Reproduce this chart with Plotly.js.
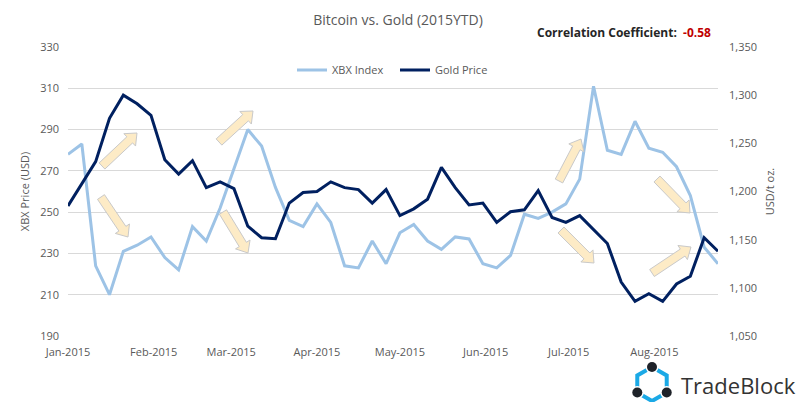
<!DOCTYPE html>
<html>
<head>
<meta charset="utf-8">
<script src="https://cdn.plot.ly/plotly-3.0.1.min.js"></script>
<style>
html,body{margin:0;padding:0;background:#fff;}
#chart{width:796px;height:402px;}
</style>
</head>
<body>
<div id="chart"></div>
<script>
// ---- data ----
const dates = [
 "2015-01-01","2015-01-06","2015-01-11","2015-01-16","2015-01-21","2015-01-26","2015-01-31","2015-02-05",
 "2015-02-10","2015-02-15","2015-02-20","2015-02-25","2015-03-02","2015-03-07","2015-03-12","2015-03-17",
 "2015-03-22","2015-03-27","2015-04-01","2015-04-06","2015-04-11","2015-04-16","2015-04-21","2015-04-26",
 "2015-05-01","2015-05-06","2015-05-11","2015-05-16","2015-05-21","2015-05-26","2015-05-31","2015-06-05",
 "2015-06-10","2015-06-15","2015-06-20","2015-06-25","2015-06-30","2015-07-05","2015-07-10","2015-07-15",
 "2015-07-20","2015-07-25","2015-07-30","2015-08-04","2015-08-09","2015-08-14","2015-08-19","2015-08-24"
];
const xbxIndex = [
 278,283,224,210,231,234,238,228,
 222,243,236,252,271,290,282,262,
 246,243,254,245,224,223,236,225,
 240,244,236,232,238,237,225,223,
 229,249,247,250,254,266,311,280,
 278,294,281,279,272,258,233,225
];
const goldPrice = [
 1185,1208,1231,1276,1300,1291,1279,1233,
 1218,1232,1204,1210,1203,1164,1152,1151,
 1188,1199,1200,1210,1204,1202,1188,1202,
 1175,1182,1192,1225,1204,1186,1188,1168,
 1179,1181,1201,1173,1168,1175,1160,1146,
 1106,1086,1094,1086,1104,1112,1152,1138
];
const monthTicks = ["2015-01-01","2015-02-01","2015-03-01","2015-04-01","2015-05-01","2015-06-01","2015-07-01","2015-08-01"];
const correlation = "-0.58";

// ---- layout geometry (pixels) ----
const W = 796, H = 402;
const L = 68, R = 78, T = 47, B = 66;
const PW = W - L - R, PH = H - T - B;
const px = x => (x - L) / PW;          // pixel -> paper x
const py = y => (H - B - y) / PH;      // pixel -> paper y

// block arrow (decoration) drawn in pixel space, converted to paper coords
function blockArrow(x0, y0, x1, y1) {
  const dx = x1 - x0, dy = y1 - y0, len = Math.hypot(dx, dy);
  const ux = dx / len, uy = dy / len, nx = -uy, ny = ux;
  const sw = 4.2, hw = 8.5, hl = 10;
  const bx = x1 - ux * hl, by = y1 - uy * hl;
  const pts = [
    [x0 + nx * sw, y0 + ny * sw],
    [bx + nx * sw, by + ny * sw],
    [bx + nx * hw, by + ny * hw],
    [x1, y1],
    [bx - nx * hw, by - ny * hw],
    [bx - nx * sw, by - ny * sw],
    [x0 - nx * sw, y0 - ny * sw]
  ];
  const path = 'M ' + pts.map(p => px(p[0]).toFixed(5) + ',' + py(p[1]).toFixed(5)).join(' L ') + ' Z';
  return {type: 'path', xref: 'paper', yref: 'paper', path: path,
          fillcolor: '#FDEBC6', line: {color: '#C9C9C9', width: 1}, layer: 'above'};
}
const arrows = [
  [102,166,137,133],[101,197,128,237],[219,142,253,111],[223,212,248,253],
  [559,181,581,139],[561,230,594,263],[657,179,690,213],[652,273,691,247]
].map(a => blockArrow(...a));

// TradeBlock logo (decoration)
const cx = 652, cy = 384, r = 17;
const hexPts = [];
for (let k = 0; k < 6; k++) {
  const ang = -Math.PI / 2 + k * Math.PI / 3;
  hexPts.push([cx + r * Math.cos(ang), cy + r * Math.sin(ang)]);
}
const hexPath = 'M ' + hexPts.map(p => px(p[0]).toFixed(5) + ',' + py(p[1]).toFixed(5)).join(' L ') + ' Z';
const logoShapes = [{type: 'path', xref: 'paper', yref: 'paper', path: hexPath,
  line: {color: '#1BA9E6', width: 4}, fillcolor: 'rgba(0,0,0,0)'}];
[hexPts[0], hexPts[2], hexPts[4]].forEach(p => {
  const rr = 5;
  logoShapes.push({type: 'circle', xref: 'paper', yref: 'paper',
    x0: px(p[0] - rr - 1.5), x1: px(p[0] + rr + 1.5), y0: py(p[1] + rr + 1.5), y1: py(p[1] - rr - 1.5),
    fillcolor: '#ffffff', line: {width: 0}});
  logoShapes.push({type: 'circle', xref: 'paper', yref: 'paper',
    x0: px(p[0] - rr), x1: px(p[0] + rr), y0: py(p[1] + rr), y1: py(p[1] - rr),
    fillcolor: '#1E2229', line: {width: 0}});
});

const FONT = 'Open Sans, Noto Sans, DejaVu Sans, sans-serif';
const GREY = '#595959';

const traces = [
  {x: dates, y: xbxIndex, name: 'XBX Index', type: 'scatter', mode: 'lines',
   line: {color: '#9DC3E6', width: 3}, yaxis: 'y'},
  {x: dates, y: goldPrice, name: 'Gold Price', type: 'scatter', mode: 'lines',
   line: {color: '#002060', width: 3}, yaxis: 'y2'}
];

const layout = {
  width: W, height: H,
  margin: {l: L, r: R, t: T, b: B, pad: 0},
  paper_bgcolor: '#ffffff', plot_bgcolor: '#ffffff',
  font: {family: FONT, color: GREY, size: 11},
  title: {text: 'Bitcoin vs. Gold (2015YTD)', font: {family: FONT, size: 14, color: GREY},
          x: 0.5, xanchor: 'center', xref: 'container', y: 1 - 20 / H, yanchor: 'middle', yref: 'container'},
  showlegend: true,
  legend: {orientation: 'h', x: px(292), xanchor: 'left', y: py(70), yanchor: 'middle',
           bgcolor: 'rgba(0,0,0,0)', font: {size: 11, color: GREY}, itemwidth: 30,
           entrywidth: 58, entrywidthmode: 'pixels'},
  xaxis: {type: 'date', range: [dates[0], dates[dates.length - 1]],
          tickvals: monthTicks, tickformat: '%b-%Y', showgrid: false, zeroline: false,
          showline: false, ticks: '', tickfont: {size: 11, color: GREY}, ticklabelstandoff: 8},
  yaxis: {range: [190, 330], dtick: 20, tick0: 190, showgrid: true, gridcolor: '#D9D9D9', gridwidth: 1,
          zeroline: false, showline: false, ticks: '', tickfont: {size: 11, color: GREY},
          ticklabelstandoff: 8,
          title: {text: 'XBX Price (USD)', font: {size: 11, color: GREY}, standoff: 8}},
  yaxis2: {range: [1050, 1350], dtick: 50, tick0: 1050, overlaying: 'y', side: 'right',
           showgrid: false, zeroline: false, showline: false, ticks: '', tickformat: ',',
           tickfont: {size: 11, color: GREY}, ticklabelstandoff: 10,
           title: {text: 'USD/t oz.', font: {size: 11, color: GREY}, standoff: 10}},
  shapes: arrows.concat(logoShapes),
  annotations: [
    {xref: 'paper', yref: 'paper', x: px(713), y: py(33), xanchor: 'right', yanchor: 'middle',
     showarrow: false, font: {family: FONT, size: 12, color: '#262626'},
     text: '<b>Correlation Coefficient:  <span style="color:#C00000">' + correlation + '</span></b>'},
    {xref: 'paper', yref: 'paper', x: px(679), y: py(385), xanchor: 'left', yanchor: 'middle',
     showarrow: false, font: {family: FONT, size: 22, color: '#333333'}, text: 'TradeBlock'}
  ]
};

Plotly.newPlot('chart', traces, layout, {staticPlot: true, displayModeBar: false});
</script>
</body>
</html>
